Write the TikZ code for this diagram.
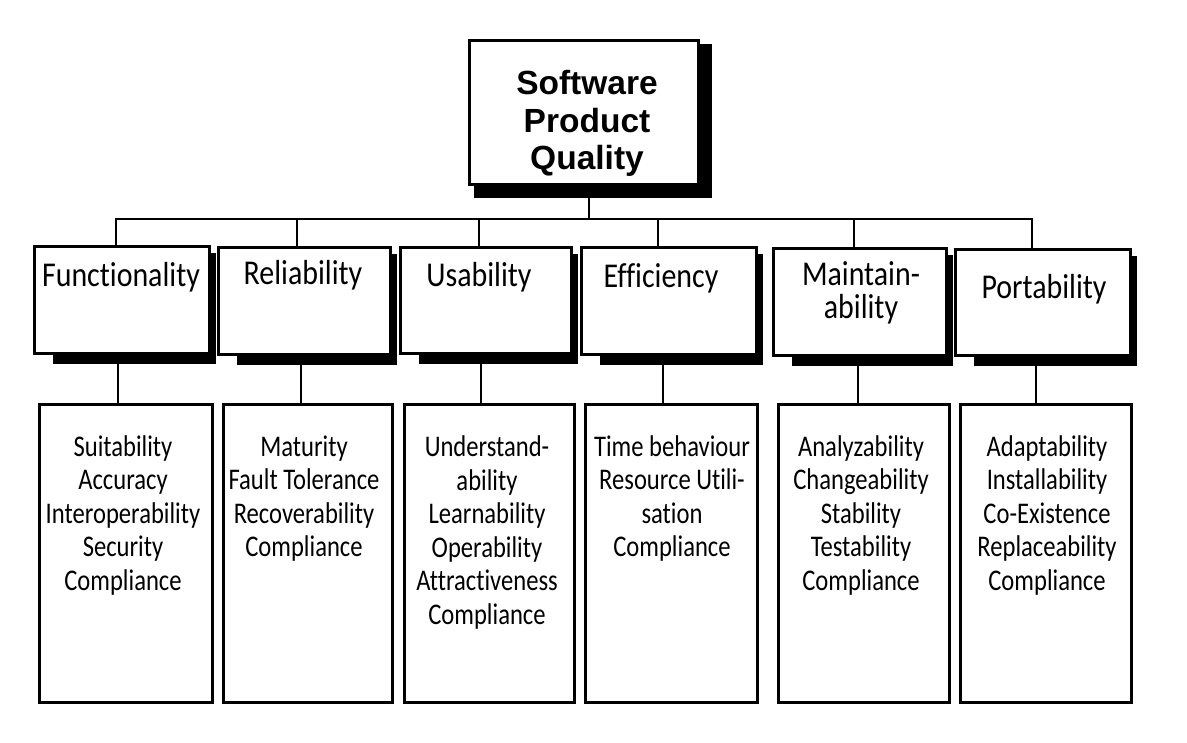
\documentclass[tikz,border=0pt]{standalone}
\usepackage{fontspec}
\usetikzlibrary{calc,backgrounds}
\newfontfamily\titlefont{Liberation Sans}
\newfontfamily\catfont{Carlito}[FakeStretch=0.86, Ligatures=NoCommon]
\newfontfamily\subfont{Carlito}[FakeStretch=0.82, Ligatures=NoCommon]
\tikzset{
  box/.style={draw=black, fill=white, line width=3pt, inner sep=0pt},
  conn/.style={line width=2.6pt, line cap=rect},
  titletext/.style={font=\titlefont\bfseries\fontsize{33.5}{37.5}\selectfont, align=center, anchor=base, inner sep=0pt},
  cattext/.style={font=\catfont\fontsize{34.8}{33}\selectfont, align=center, anchor=base, inner sep=0pt},
  subtext/.style={font=\subfont\fontsize{30}{33.5}\selectfont, align=center, anchor=base, inner sep=0pt},
}
\begin{document}
\begin{tikzpicture}[x=1pt,y=-1pt]
\useasboundingbox (0,0) rectangle (1187,743);
% boxes
\node[box, minimum width=229, minimum height=144] (title) at (584,112.5) {};
\node[box, minimum width=175, minimum height=107] (c1) at (122,300) {};
\node[box, minimum width=172, minimum height=107] (c2) at (304.5,301) {};
\node[box, minimum width=171, minimum height=106] (c3) at (486,300.5) {};
\node[box, minimum width=175, minimum height=107] (c4) at (669,301) {};
\node[box, minimum width=173, minimum height=107] (c5) at (860,302) {};
\node[box, minimum width=175, minimum height=106] (c6) at (1043,302.5) {};
\node[box, minimum width=173, minimum height=298] (b1) at (126,553.5) {};
\node[box, minimum width=169, minimum height=298] (b2) at (308,553.5) {};
\node[box, minimum width=170, minimum height=298] (b3) at (489.5,553.5) {};
\node[box, minimum width=172, minimum height=298] (b4) at (671.5,553.5) {};
\node[box, minimum width=171, minimum height=298] (b5) at (864,553.5) {};
\node[box, minimum width=171, minimum height=298] (b6) at (1046,553.5) {};
\coordinate (bus) at (589,219);
% shadows and connectors
\begin{scope}[on background layer]
  \fill ($(title.north west)+(6,5)$) rectangle ($(title.south east)+(12,12)$);
  \foreach \c in {c1,c2,c3,c4,c5,c6}{
    \fill ($(\c.north west)+(20,8)$) rectangle ($(\c.south east)+(5,9.5)$);
  }
  \draw[conn] ([xshift=5pt]title.south) -- ([xshift=5pt]title.south |- bus);
  \draw[conn] ([xshift=-6pt]c1.north |- bus) -- ([xshift=-11pt]c6.north |- bus);
  \draw[conn] ([xshift=-6pt]c1.north) -- ([xshift=-6pt]c1.north |- bus);
  \draw[conn] ([xshift=-7.5pt]c2.north) -- ([xshift=-7.5pt]c2.north |- bus);
  \draw[conn] ([xshift=-7pt]c3.north) -- ([xshift=-7pt]c3.north |- bus);
  \draw[conn] ([xshift=-11pt]c4.north) -- ([xshift=-11pt]c4.north |- bus);
  \draw[conn] ([xshift=-6pt]c5.north) -- ([xshift=-6pt]c5.north |- bus);
  \draw[conn] ([xshift=-11pt]c6.north) -- ([xshift=-11pt]c6.north |- bus);
  \draw[conn] ([xshift=-4pt]c1.south) -- ([xshift=-4pt]c1.south |- b1.north);
  \draw[conn] ([xshift=-3.5pt]c2.south) -- ([xshift=-3.5pt]c2.south |- b2.north);
  \draw[conn] ([xshift=-5pt]c3.south) -- ([xshift=-5pt]c3.south |- b3.north);
  \draw[conn] ([xshift=-6pt]c4.south) -- ([xshift=-6pt]c4.south |- b4.north);
  \draw[conn] ([xshift=-2pt]c5.south) -- ([xshift=-2pt]c5.south |- b5.north);
  \draw[conn] ([xshift=-7pt]c6.south) -- ([xshift=-7pt]c6.south |- b6.north);
\end{scope}
% texts (base anchor = baseline of the last line)
\node[titletext] (tt) at (587,170) {Software\\Product\\Quality};
\node[cattext] (l1) at (121,287) {Functionality};
\node[cattext] (l2) at (303,285) {Reliability};
\node[cattext] (l3) at (479,287) {Usability};
\node[cattext] (l4) at (661,288) {Efficiency};
\node[cattext] (l5) at (861,319) {Maintain-\\ability};
\node[cattext] (l6) at (1044,299) {Portability};
\node[subtext] (s1) at (123,590) {Suitability\\Accuracy\\Interoperability\\Security\\Compliance};
\node[subtext] (s2) at (304,556.5) {Maturity\\Fault Tolerance\\Recoverability\\Compliance};
\node[subtext] (s3) at (487,624) {Understand-\\ability\\Learnability\\Operability\\Attractiveness\\Compliance};
\node[subtext] (s4) at (672,556.5) {Time behaviour\\Resource Utili-\\sation\\Compliance};
\node[subtext] (s5) at (861,590) {Analyzability\\Changeability\\Stability\\Testability\\Compliance};
\node[subtext] (s6) at (1047,590) {Adaptability\\Installability\\Co-Existence\\Replaceability\\Compliance};
\end{tikzpicture}
\end{document}
